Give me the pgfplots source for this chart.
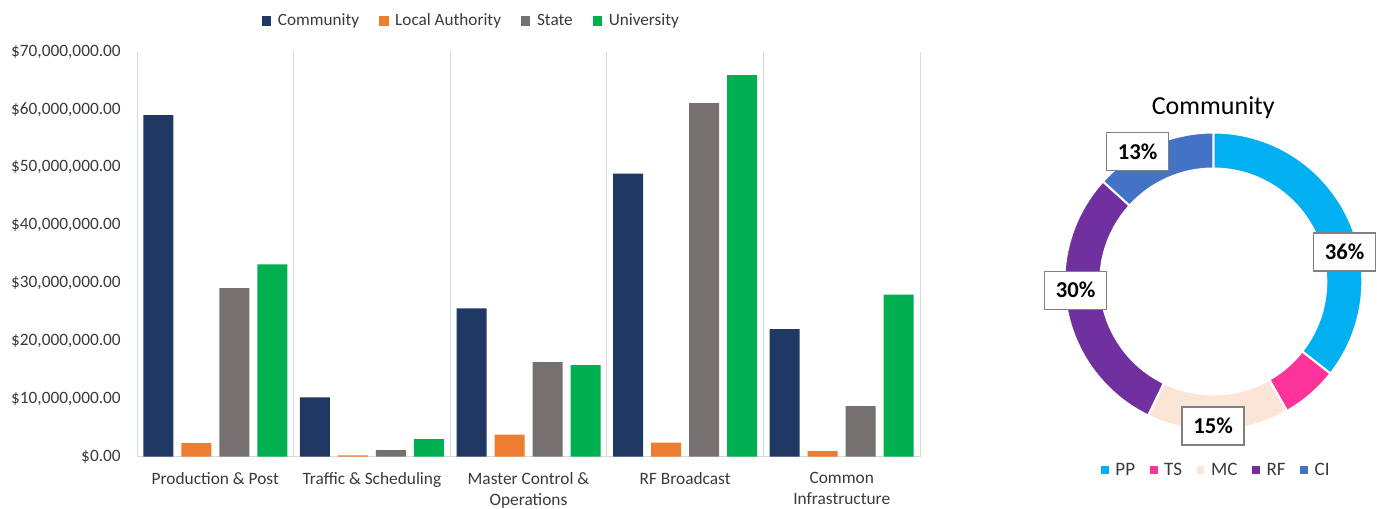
\documentclass[border=0pt]{standalone}
\usepackage{fontspec}
\setmainfont{Carlito}
\usepackage{pgfplots}
\usepackage{pgfplotstable}
\pgfplotsset{compat=1.18}

\definecolor{comm}{HTML}{203864}
\definecolor{loca}{HTML}{ED7D31}
\definecolor{stat}{HTML}{767171}
\definecolor{univ}{HTML}{00B050}
\definecolor{cPP}{HTML}{00B0F0}
\definecolor{cTS}{HTML}{FF3399}
\definecolor{cMC}{HTML}{FBE5D6}
\definecolor{cRF}{HTML}{7030A0}
\definecolor{cCI}{HTML}{4472C4}
\definecolor{gridc}{HTML}{D9D9D9}
\definecolor{txt}{HTML}{3A3A3A}

% values in millions of dollars
\pgfplotstableread{
x comm loca stat univ
0 59.0 2.3 29.1 33.2
1 10.2 0.2 1.1 3.0
2 25.6 3.8 16.3 15.8
3 48.9 2.4 61.1 65.9
4 22.0 0.95 8.7 28.0
}\bardata

% Community shares (millions)
\def\vPP{59.0}\def\vTS{10.2}\def\vMC{25.6}\def\vRF{48.9}\def\vCI{22.0}

\pgfplotsset{
  sq legend/.style={legend image code/.code={\fill[##1,draw=none] (0pt,-3.5pt) rectangle (7pt,3.5pt);}},
  sqs legend/.style={legend image code/.code={\fill[##1,draw=none] (0pt,-2.9pt) rectangle (5.8pt,2.9pt);}},
}

\begin{document}
\begin{tikzpicture}
\useasboundingbox (0,0) rectangle (1032.75pt,-381pt);
\pgfmathsetmacro\tot{\vPP+\vTS+\vMC+\vRF+\vCI}
\pgfmathsetmacro\aA{90}
\pgfmathsetmacro\aB{\aA-(\vPP/\tot)*360}
\pgfmathsetmacro\aC{\aB-(\vTS/\tot)*360}
\pgfmathsetmacro\aD{\aC-(\vMC/\tot)*360}
\pgfmathsetmacro\aE{\aD-(\vRF/\tot)*360}
\pgfmathsetmacro\aF{\aE-(\vCI/\tot)*360}

\begin{axis}[
  at={(102.75pt,-342.375pt)}, anchor=south west,
  scale only axis, width=587.25pt, height=303.75pt,
  ybar=6pt, bar width=22.5pt,
  xmin=-0.5, xmax=4.5, ymin=0, ymax=70,
  xtick={0,...,4},
  xticklabels={Production \& Post, Traffic \& Scheduling, {Master Control \&\\Operations}, RF Broadcast, {Common\\Infrastructure}},
  minor xtick={-0.5,0.5,...,4.5},
  xminorgrids, minor grid style={gridc, line width=0.75pt},
  major tick length=0pt, minor tick length=0pt,
  ytick={0,10,...,70},
  yticklabels={{\$0.00},{\$10,000,000.00},{\$20,000,000.00},{\$30,000,000.00},{\$40,000,000.00},{\$50,000,000.00},{\$60,000,000.00},{\$70,000,000.00}},
  extra y ticks={0}, extra y tick labels={},
  extra y tick style={grid=major, major grid style={gridc, line width=0.75pt}},
  axis line style={draw=none},
  xticklabel style={font=\fontsize{13}{15.5}\selectfont, align=center, text=txt, yshift=-8.5pt},
  yticklabel style={font=\fontsize{13}{15}\selectfont, text=txt, inner sep=0pt, xshift=-12pt},
  legend style={at={(0.4275,1.0753)}, anchor=center, draw=none, fill=none,
    legend columns=4, font=\fontsize{12.9}{15}\selectfont, text=txt,
    /tikz/every odd column/.append style={column sep=3pt},
    /tikz/every even column/.append style={column sep=13pt}},
]
\addplot[fill=comm, draw=none, sq legend] table[x=x,y=comm]{\bardata};
\addlegendentry{Community}
\addplot[fill=loca, draw=none, sq legend] table[x=x,y=loca]{\bardata};
\addlegendentry{Local Authority}
\addplot[fill=stat, draw=none, sq legend] table[x=x,y=stat]{\bardata};
\addlegendentry{State}
\addplot[fill=univ, draw=none, sq legend] table[x=x,y=univ]{\bardata};
\addlegendentry{University}
\end{axis}

\begin{axis}[
  at={(909.975pt,-211.125pt)}, anchor=center,
  x=0.75pt, y=0.75pt, xmin=-180, xmax=180, ymin=-180, ymax=180,
  hide axis, clip=false,
  legend style={at={(0.5094,-0.0236)}, anchor=center, draw=none, fill=none,
    legend columns=5, font=\fontsize{14.25}{17}\selectfont, text=txt,
    /tikz/every odd column/.append style={column sep=3pt},
    /tikz/every even column/.append style={column sep=9pt}},
]
\addlegendimage{sqs legend, fill=cPP}\addlegendentry{PP}
\addlegendimage{sqs legend, fill=cTS}\addlegendentry{TS}
\addlegendimage{sqs legend, fill=cMC}\addlegendentry{MC}
\addlegendimage{sqs legend, fill=cRF}\addlegendentry{RF}
\addlegendimage{sqs legend, fill=cCI}\addlegendentry{CI}
\foreach \s/\e/\c in {\aA/\aB/cPP,\aB/\aC/cTS,\aC/\aD/cMC,\aD/\aE/cRF,\aE/\aF/cCI}{
  \edef\temp{\noexpand\fill[\c, draw=white, line width=1.5pt]
    (axis cs:{149*cos(\s)},{149*sin(\s)}) arc[start angle=\s, end angle=\e, radius=111.75pt]
    -- (axis cs:{113*cos(\e)},{113*sin(\e)}) arc[start angle=\e, end angle=\s, radius=84.75pt] -- cycle;}
  \temp
}
\node[font=\fontsize{19.5}{23}\selectfont] at (axis cs:0,173.5) {Community};
\tikzset{lbl/.style={draw=black!50, line width=1pt, fill=white, minimum width=46.5pt, minimum height=28.5pt, inner sep=0pt, font=\bfseries\fontsize{17}{20}\selectfont}}
\node[lbl] at (axis cs:-75.6,129.8) {13\%};
\node[lbl] at (axis cs:131.2,29.5) {36\%};
\node[lbl] at (axis cs:-137.8,-8.7) {30\%};
\node[lbl] at (axis cs:-0.3,-144.5) {15\%};
\end{axis}
\end{tikzpicture}
\end{document}
